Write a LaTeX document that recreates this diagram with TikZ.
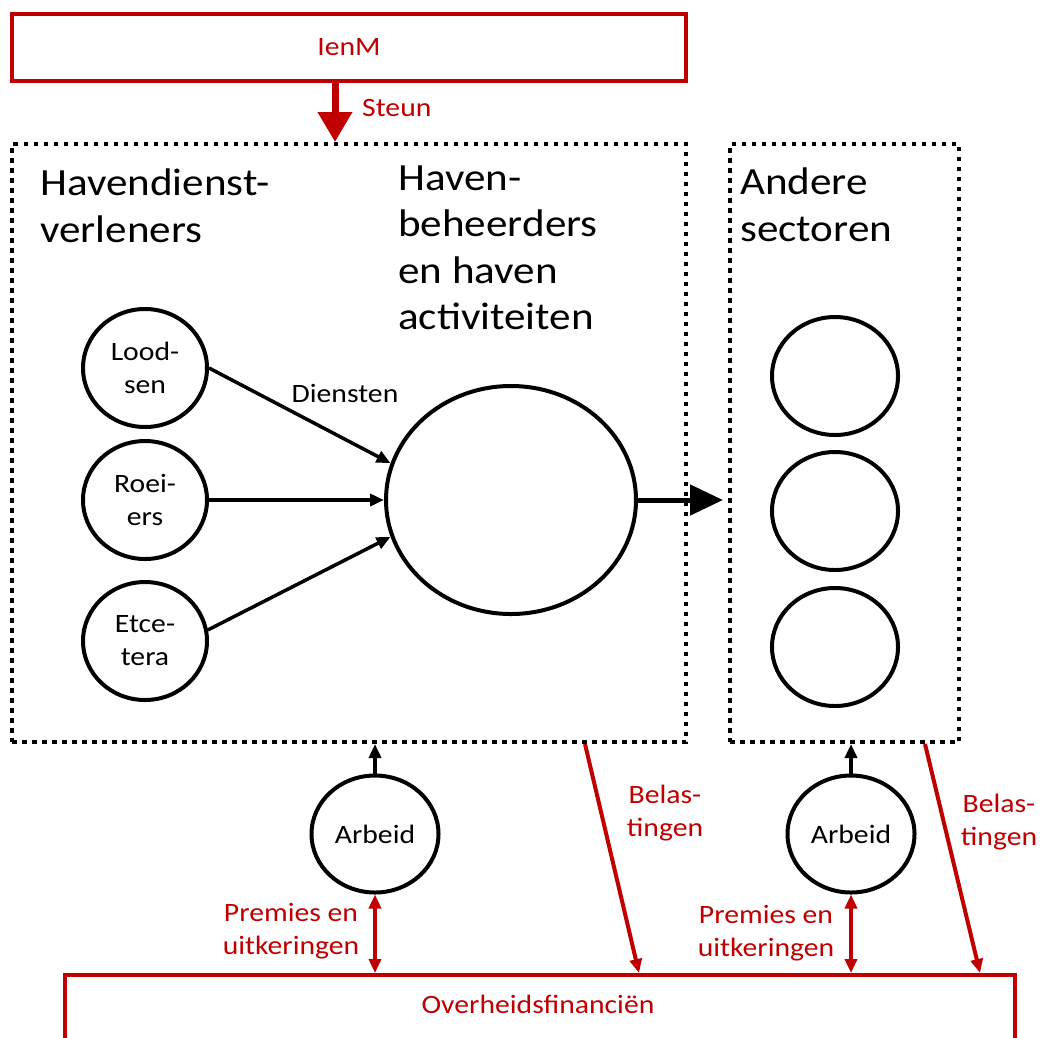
\documentclass[tikz,border=0pt]{standalone}
\usepackage{fontspec}
\setmainfont{Carlito}[FakeStretch=1.12]
\usetikzlibrary{arrows.meta,shapes.geometric}
\definecolor{rd}{RGB}{192,0,0}
\tikzset{
  big/.style={font=\fontsize{38.5}{46.5}\selectfont, align=left, inner sep=0pt},
  sm/.style={font=\fontsize{26.5}{33}\selectfont, align=center, inner sep=0pt},
  circ/.style={ellipse, draw, line width=4pt, minimum width=124pt, minimum height=118pt, inner sep=0pt, sm},
  dotbox/.style={draw, line width=4pt, dash pattern=on 4.5pt off 5.5pt, anchor=north west, inner sep=0pt},
  redbox/.style={draw=rd, line width=4pt, anchor=north west, inner sep=0pt},
  arr/.style={line width=3.5pt, -{Triangle[length=14pt,width=12pt]}},
  rarr/.style={draw=rd, line width=4pt, -{Triangle[length=14pt,width=12pt]}},
  rarr2/.style={draw=rd, line width=4pt, {Triangle[length=14pt,width=12pt]}-{Triangle[length=14pt,width=12pt]}},
  rtext/.style={sm, text=rd},
}
\begin{document}
\begin{tikzpicture}[x=1pt, y=-1pt]
\useasboundingbox (0,0) rectangle (1040,1037);
% top box
\node[redbox, minimum width=674pt, minimum height=67pt] (ienm) at (10,12) {};
\node[rtext] (ienmt) at (ienm.center) {IenM};
% dotted boxes
\node[dotbox, minimum width=674pt, minimum height=598pt] (lbox) at (10,142) {};
\node[dotbox, minimum width=229pt, minimum height=598pt] (rbox) at (728,142) {};
% Steun
\draw[draw=rd, line width=7pt, -{Triangle[length=30pt,width=33pt]}] ([xshift=-14pt]ienm.south) -- ([xshift=-14pt]lbox.north);
\node[rtext, anchor=west] (steun) at (362,108) {Steun};
% headings
\node[big, anchor=west] (hdv) at (40,206) {Havendienst-\\verleners};
\node[big, anchor=west] (hbh) at (398,248) {Haven-\\beheerders\\en haven\\activiteiten};
\node[big, anchor=west] (ands) at (740,205) {Andere\\sectoren};
% left circles
\node[circ] (lood) at (145,368) {Lood-\\sen};
\node[circ] (roei) at (145,500) {Roei-\\ers};
\node[circ] (etc) at (145,641) {Etce-\\tera};
\node[ellipse, draw, line width=4pt, minimum width=250pt, minimum height=228pt, inner sep=0pt] (bigc) at (511,500) {};
\draw[arr] (lood.east) -- (bigc.163);
\draw[arr] (roei.east) -- (bigc.west);
\draw[arr] (etc.10) -- (bigc.197);
\node[sm] (dien) at (345,393) {Diensten};
\draw[line width=5pt, -{Triangle[length=33pt,width=30pt]}] (bigc.east) -- ([xshift=-5pt]rbox.west |- bigc.east);
% right circles
\node[circ, minimum width=126pt] (r1) at (835,376) {};
\node[circ, minimum width=126pt] (r2) at (835,511) {};
\node[circ, minimum width=126pt] (r3) at (835,647) {};
% bottom box
\node[redbox, minimum width=950pt, minimum height=120pt] (ov) at (63,973) {};
\node[rtext] (ovt) at (538,1004) {Overheidsfinanciën};
% Arbeid
\node[circ, minimum width=127pt, minimum height=117pt] (arb1) at (375,834) {Arbeid};
\node[circ, minimum width=127pt, minimum height=117pt] (arb2) at (851,834) {Arbeid};
\draw[arr] (arb1) -- (arb1 |- lbox.south);
\draw[arr] (arb2) -- (arb2 |- rbox.south);
\draw[rarr2] (arb1) -- (arb1 |- ov.north);
\draw[rarr2] (arb2) -- (arb2 |- ov.north);
\node[rtext] (pu1) at (291,931) {Premies en\\uitkeringen};
\node[rtext] (pu2) at (766,933) {Premies en\\uitkeringen};
% Belastingen
\draw[rarr] ([xshift=236pt]lbox.south) -- ([xshift=99pt]ov.north);
\draw[rarr] ([xshift=80.5pt]rbox.south) -- ([xshift=440pt]ov.north);
\node[rtext] (bel1) at (665,813) {Belas-\\tingen};
\node[rtext] (bel2) at (999,822) {Belas-\\tingen};
\end{tikzpicture}
\end{document}
